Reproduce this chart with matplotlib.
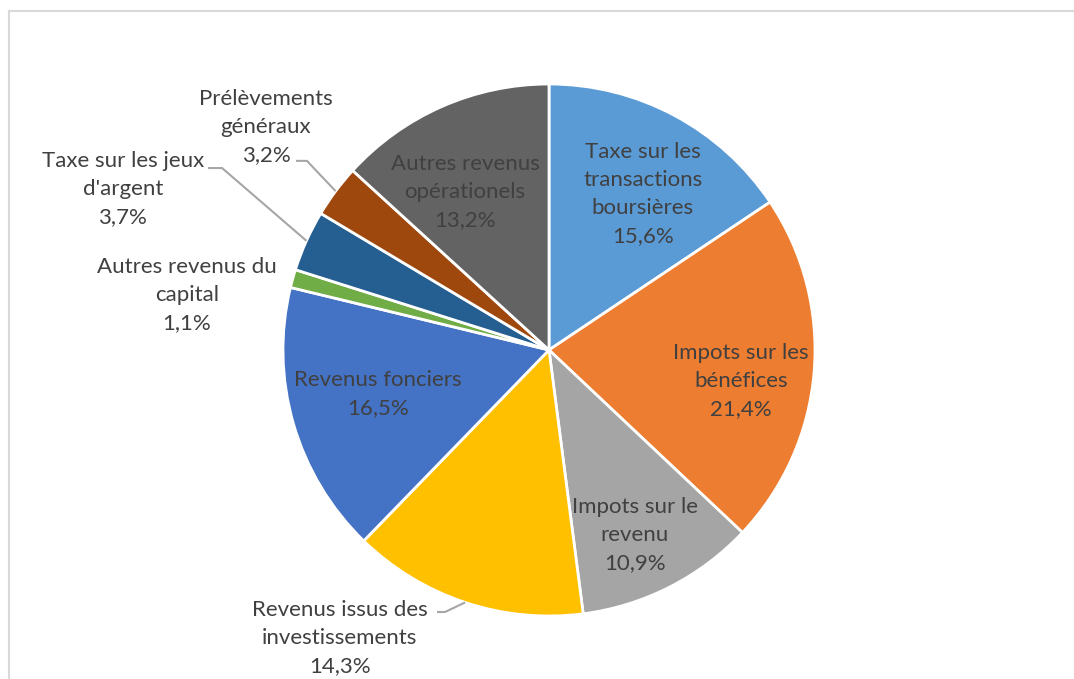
import numpy as np
import matplotlib.pyplot as plt
from matplotlib.lines import Line2D

labels = ["Taxe sur les\ntransactions\nboursières",
          "Impots sur les\nbénéfices",
          "Impots sur le\nrevenu",
          "Revenus issus des\ninvestissements",
          "Revenus fonciers",
          "Autres revenus du\ncapital",
          "Taxe sur les jeux\nd'argent",
          "Prélèvements\ngénéraux",
          "Autres revenus\nopérationels"]
values = [15.6, 21.4, 10.9, 14.3, 16.5, 1.1, 3.7, 3.2, 13.2]
colors = ["#5B9BD5", "#ED7D31", "#A5A5A5", "#FFC000", "#4472C4",
          "#70AD47", "#255E91", "#9E480E", "#636363"]

# label centres (data units, pie radius = 1)
label_pos = [(0.353, 0.586), (0.722, -0.117), (0.323, -0.695), (-0.786, -1.083),
             (-0.643, -0.165), (-1.361, 0.207), (-1.602, 0.605), (-1.064, 0.838),
             (-0.316, 0.594)]
# leader lines: (start x, elbow x, y) for outside labels
leaders = {3: (-0.421, -0.391, -0.985),
           6: (-1.282, -1.229, 0.684),
           7: (-0.951, -0.910, 0.711)}

plt.rcParams['font.family'] = ['Lato', 'DejaVu Sans']

fig = plt.figure(figsize=(10.74, 6.79), dpi=100)
ax = fig.add_axes([0, 0, 1, 1])

wedges, _ = ax.pie(values, colors=colors, startangle=90, counterclock=False,
                   radius=1, wedgeprops=dict(edgecolor='white', linewidth=2))
ax.set_aspect('auto')
ax.set_xlim(-549 / 266, (1074 - 549) / 266)
ax.set_ylim(-(679 - 350) / 266, 350 / 266)
ax.axis('off')

for i, w in enumerate(wedges):
    txt = labels[i] + "\n" + ("%.1f%%" % values[i]).replace('.', ',')
    x, y = label_pos[i]
    ax.text(x, y, txt, ha='center', va='center', fontsize=16,
            color='#404040', linespacing=1.5)
    if i in leaders:
        x0, x1, ly = leaders[i]
        ang = np.deg2rad((w.theta1 + w.theta2) / 2)
        ax.plot([x0, x1, np.cos(ang)], [ly, ly, np.sin(ang)],
                color='#A6A6A6', lw=1.5, solid_capstyle='butt')

# chart area border (only left and top visible)
fig.add_artist(Line2D([9 / 1074, 9 / 1074], [0, 1 - 11 / 679],
                      transform=fig.transFigure, color='#D9D9D9', lw=1.5))
fig.add_artist(Line2D([9 / 1074, 1], [1 - 11 / 679, 1 - 11 / 679],
                      transform=fig.transFigure, color='#D9D9D9', lw=1.5))

fig.savefig('out.png', dpi=100)
